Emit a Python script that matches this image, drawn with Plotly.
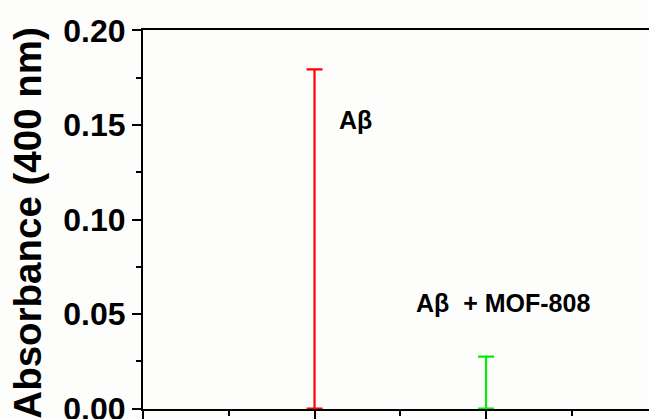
import plotly.graph_objects as go

samples = ["Aβ", "Aβ  + MOF-808"]
x_pos = [1, 2]
absorbance = [0.1794, 0.0275]
colors = ["#ff0000", "#00ee00"]
label_x = [1.24, 2.1]
label_y = [0.1525, 0.056]

fig = go.Figure()
for xp, val, col in zip(x_pos, absorbance, colors):
    fig.add_trace(go.Scatter(
        x=[xp], y=[0], mode="markers",
        marker=dict(size=1, color=col, opacity=0),
        error_y=dict(type="data", symmetric=False, array=[val], arrayminus=[0],
                     color=col, thickness=2.2, width=8),
        showlegend=False, cliponaxis=False))

for s, lx, ly in zip(samples, label_x, label_y):
    fig.add_annotation(x=lx, y=ly, text=s, showarrow=False,
                       font=dict(family="Liberation Sans, Arial", size=25, color="black", weight="bold"))

fig.add_annotation(xref="paper", yref="paper", x=-0.229, y=0.492, text="Absorbance (400 nm)",
                   textangle=-90, showarrow=False, xanchor="center", yanchor="middle",
                   font=dict(family="Liberation Sans, Arial", size=38.5, color="black", weight="bold"))

fig.update_layout(
    width=649, height=419,
    margin=dict(l=143, r=0, t=30, b=10, autoexpand=False),
    paper_bgcolor="#fdfdfb", plot_bgcolor="#fdfdfb",
    xaxis=dict(range=[0, 2.95], showgrid=False, zeroline=False, showline=True, linecolor="black",
               linewidth=2, mirror=True, ticks="outside", ticklen=9, tickwidth=2, tickcolor="black",
               dtick=1, tick0=0, showticklabels=False, automargin=False,
               minor=dict(dtick=0.5, ticks="outside", ticklen=5, tickwidth=2, tickcolor="black")),
    yaxis=dict(range=[-0.0002, 0.2002], showgrid=False, zeroline=False, showline=True, linecolor="black",
               linewidth=2, ticks="outside", ticklen=9, tickwidth=2, tickcolor="black",
               dtick=0.05, tick0=0, tickformat=".2f", ticklabeloverflow="allow", automargin=False,
               tickfont=dict(family="Liberation Sans, Arial", size=32, color="black", weight="bold"),
               minor=dict(dtick=0.025, ticks="outside", ticklen=5, tickwidth=2, tickcolor="black")),
)

fig.write_html("out.html")
